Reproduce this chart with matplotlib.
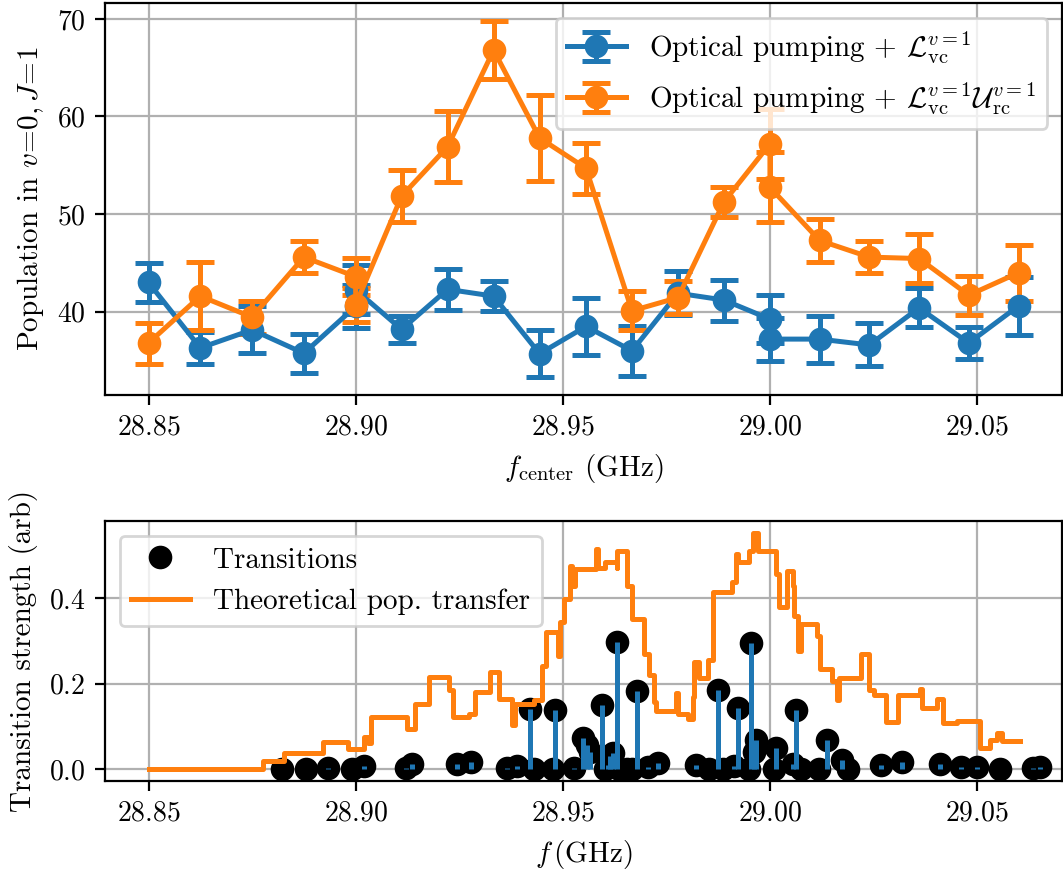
import matplotlib
matplotlib.use("Agg")
import matplotlib.pyplot as plt

plt.rcParams.update({
    "font.family": "serif",
    "font.serif": ["cmr10"],
    "mathtext.fontset": "cm",
    "axes.formatter.use_mathtext": True,
    "axes.unicode_minus": False,
    "font.size": 10,
})

# --- Measured populations (three frequency scans, concatenated) ---
freq = [28.85, 28.8625, 28.875, 28.8875, 28.90,
        28.90, 28.9111, 28.9222, 28.9333, 28.9444, 28.9556, 28.9667, 28.9778, 28.9889, 29.00,
        29.00, 29.012, 29.024, 29.036, 29.048, 29.06]

pop_lvc = [43.0, 36.3, 38.15, 35.75, 40.55,
           42.25, 38.2, 42.3, 41.6, 35.7, 38.5, 36.0, 41.9, 41.2, 39.25,
           37.2, 37.2, 36.6, 40.4, 36.8, 40.6]
err_lvc = [2.0, 1.65, 2.4, 2.0, 2.2,
           2.5, 1.4, 2.1, 1.55, 2.4, 2.9, 2.55, 2.25, 2.1, 2.5,
           2.2, 2.4, 2.2, 2.0, 1.65, 3.0]

pop_lvc_urc = [36.8, 41.6, 39.45, 45.6, 43.6,
               40.7, 51.85, 56.9, 66.8, 57.8, 54.7, 40.1, 41.45, 51.25, 57.2,
               52.75, 47.3, 45.6, 45.45, 41.7, 44.0]
err_lvc_urc = [2.1, 3.5, 1.7, 1.6, 1.9,
               1.7, 2.7, 3.65, 3.0, 4.45, 2.6, 2.0, 1.7, 1.5, 3.6,
               3.6, 2.2, 1.6, 2.5, 2.0, 2.85]

label_lvc = r"Optical pumping + $\mathcal{L}_{\rm vc}^{v=1}$"
label_lvc_urc = r"Optical pumping + $\mathcal{L}_{\rm vc}^{v=1}\mathcal{U}_{\rm rc}^{v=1}$"

# --- Transition lines ---
trans_f = [28.8823, 28.8880, 28.8933, 28.8990, 28.9021, 28.9121, 28.9135, 28.9245, 28.9279,
           28.9365, 28.9389, 28.9421, 28.9430, 28.9476, 28.9482, 28.9526, 28.9550, 28.9558,
           28.9565, 28.9594, 28.9601, 28.9610, 28.9615, 28.9622, 28.9630, 28.9635, 28.9654,
           28.9668, 28.9678, 28.9706, 28.9730, 28.9822, 28.9853, 28.9875, 28.9887, 28.9914,
           28.9922, 28.9950, 28.9954, 28.9962, 28.9966, 29.0010, 29.0014, 29.0055, 29.0063,
           29.0075, 29.0118, 29.0138, 29.0175, 29.0188, 29.0267, 29.0319, 29.0411, 29.0462,
           29.0500, 29.0555, 29.0635, 29.0651]
trans_s = [0.0, 0.0, 0.003, 0.0, 0.008, 0.003, 0.013, 0.012, 0.016,
           0.002, 0.008, 0.140, 0.0, 0.0, 0.138, 0.002, 0.072, 0.056,
           0.040, 0.149, 0.0, 0.010, 0.030, 0.037, 0.297, 0.0, 0.0,
           0.0, 0.182, 0.004, 0.014, 0.010, 0.0, 0.184, 0.0, 0.008,
           0.143, 0.0, 0.295, 0.040, 0.068, 0.0, 0.049, 0.012, 0.138,
           0.0, 0.0, 0.068, 0.022, 0.0, 0.010, 0.016, 0.012, 0.006,
           0.006, 0.001, 0.003, 0.006]

# --- Theoretical population transfer (piecewise constant) ---
theory_f = [28.8500, 28.8776, 28.8827, 28.8921, 28.8981, 28.9019, 28.9029, 28.9036, 28.9125,
            28.9144, 28.9178, 28.9226, 28.9236, 28.9274, 28.9288, 28.9325, 28.9346, 28.9377,
            28.9385, 28.9430, 28.9450, 28.9459, 28.9488, 28.9493, 28.9502, 28.9517, 28.9522,
            28.9529, 28.9579, 28.9584, 28.9601, 28.9630, 28.9632, 28.9654, 28.9666, 28.9697,
            28.9709, 28.9719, 28.9726, 28.9774, 28.9779, 28.9803, 28.9815, 28.9817, 28.9829,
            28.9851, 28.9863, 28.9909, 28.9918, 28.9923, 28.9950, 28.9959, 28.9971, 29.0014,
            29.0022, 29.0041, 29.0055, 29.0058, 29.0067, 29.0075, 29.0113, 29.0120, 29.0151,
            29.0163, 29.0167, 29.0219, 29.0240, 29.0250, 29.0279, 29.0308, 29.0363, 29.0368,
            29.0404, 29.0418, 29.0452, 29.0507, 29.0531, 29.0548, 29.0560, 29.0603]
theory_p = [0.0, 0.019, 0.038, 0.064, 0.046, 0.074, 0.061, 0.121, 0.094,
            0.153, 0.215, 0.184, 0.121, 0.128, 0.180, 0.227, 0.165, 0.103,
            0.153, 0.161, 0.242, 0.320, 0.265, 0.343, 0.398, 0.475, 0.428,
            0.467, 0.515, 0.470, 0.483, 0.470, 0.510, 0.428, 0.351, 0.270,
            0.219, 0.157, 0.135, 0.177, 0.128, 0.117, 0.169, 0.250, 0.212,
            0.254, 0.413, 0.436, 0.502, 0.483, 0.510, 0.552, 0.510, 0.455,
            0.378, 0.463, 0.428, 0.358, 0.277, 0.340, 0.312, 0.235, 0.205,
            0.161, 0.212, 0.270, 0.184, 0.173, 0.110, 0.173, 0.188, 0.143,
            0.165, 0.107, 0.112, 0.050, 0.068, 0.085, 0.065, 0.065]

W, H = 1063, 871
fig = plt.figure(figsize=(W / 200, H / 200), dpi=200)

ax1 = fig.add_axes([105 / W, 1 - 395 / H, (1062 - 105) / W, (395 - 3) / H])
ax2 = fig.add_axes([105 / W, 1 - 781 / H, (1062 - 105) / W, (781 - 521) / H])

LW = 1.8
eb_kw = dict(fmt="o-", capsize=5, markersize=7.5, lw=LW, elinewidth=LW, capthick=LW)
ax1.errorbar(freq, pop_lvc, yerr=err_lvc, color="C0", label=label_lvc, **eb_kw)
ax1.errorbar(freq, pop_lvc_urc, yerr=err_lvc_urc, color="C1", label=label_lvc_urc, **eb_kw)
ax1.set_xlabel(r"$f_{\rm center}$ (GHz)", fontsize=10.5)
ax1.set_ylabel(r"Population in $v\!=\!0, J\!=\!1$", fontsize=10.5)
ax1.set_xticks([28.85, 28.90, 28.95, 29.00, 29.05])
ax1.set_yticks([40, 50, 60, 70])
ax1.grid(True)
ax1.set_axisbelow(True)
ax1.legend(loc="upper right", fontsize=10.5)

ax2.plot(trans_f, trans_s, "o", color="black", markersize=7.5, zorder=2, label="Transitions")
ax2.vlines(trans_f, 0, trans_s, color="C0", lw=LW, zorder=3)
ax2.plot(theory_f, theory_p, color="C1", lw=LW, drawstyle="steps-post", zorder=4,
         label="Theoretical pop. transfer")
ax2.set_xlim(ax1.get_xlim())
ax2.set_xticks([28.85, 28.90, 28.95, 29.00, 29.05])
ax2.set_yticks([0.0, 0.2, 0.4])
ax2.set_xlabel(r"$f\,$(GHz)", fontsize=10.5)
ax2.set_ylabel("Transition strength (arb)", fontsize=10.5)
ax2.grid(True)
ax2.set_axisbelow(True)
ax2.legend(loc="upper left", fontsize=10.5)

fig.savefig("out.png", dpi=200)
